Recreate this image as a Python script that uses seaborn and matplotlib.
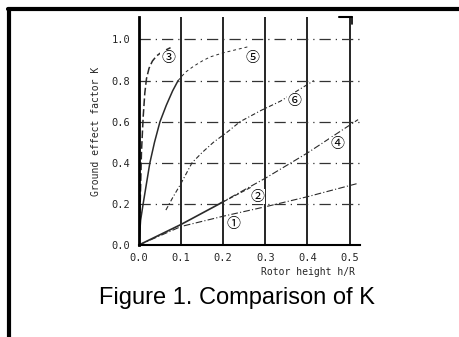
import matplotlib
matplotlib.use("Agg")
import matplotlib.pyplot as plt
import seaborn as sns
import pandas as pd
from matplotlib.lines import Line2D

sns.set_theme(style="white")
plt.rcParams['font.family'] = ['DejaVu Sans']

# Data
c1_x = [0.0, 0.1, 0.2, 0.3, 0.4, 0.52]
c1_y = [0.0, 0.09, 0.14, 0.186, 0.235, 0.30]
c2_x = [0.0, 0.1, 0.2]
c2_y = [0.0, 0.10, 0.21]
c2b_x = [0.2, 0.265]
c2b_y = [0.21, 0.28]
c4_x = [0.19, 0.3, 0.4, 0.52]
c4_y = [0.20, 0.325, 0.448, 0.61]
c3_x = [0.0, 0.003, 0.006, 0.01, 0.014, 0.018, 0.024, 0.032, 0.042, 0.055, 0.075]
c3_y = [0.0, 0.2, 0.45, 0.62, 0.74, 0.81, 0.86, 0.895, 0.92, 0.94, 0.96]
c5_x = [0.0, 0.004, 0.01, 0.018, 0.026, 0.037, 0.05, 0.065, 0.08, 0.093]
c5_y = [0.0, 0.12, 0.2, 0.3, 0.4, 0.5, 0.6, 0.68, 0.75, 0.8]
c5b_x = [0.093, 0.11, 0.13, 0.15, 0.169, 0.2, 0.23, 0.26]
c5b_y = [0.8, 0.84, 0.87, 0.895, 0.915, 0.935, 0.95, 0.965]
c6_x = [0.064, 0.08, 0.1, 0.126, 0.15, 0.177, 0.21, 0.24, 0.29, 0.336, 0.415]
c6_y = [0.17, 0.23, 0.30, 0.40, 0.45, 0.50, 0.55, 0.60, 0.655, 0.70, 0.80]

labels = ["①", "②", "③", "④", "⑤", "⑥"]
label_x = [0.224, 0.282, 0.069, 0.47, 0.27, 0.37]
label_y = [0.10, 0.235, 0.91, 0.49, 0.91, 0.70]

x_ticks = [0.0, 0.1, 0.2, 0.3, 0.4, 0.5]
y_ticks = [0.0, 0.2, 0.4, 0.6, 0.8, 1.0]

fig = plt.figure(figsize=(4.6, 3.37), dpi=100)
ax = fig.add_axes([0.302, 0.273, 0.481, 0.677])

ink = "#2a2a2a"
for v in x_ticks[1:]:
    ax.axvline(v, color="black", lw=1.2, zorder=1)
for v in y_ticks[1:]:
    ax.axhline(v, color="#333333", lw=0.9, ls=(0, (9, 4, 1, 4)), zorder=1)

def draw(xs, ys, **kw):
    df = pd.DataFrame({"x": xs, "y": ys})
    sns.lineplot(data=df, x="x", y="y", ax=ax, sort=False, estimator=None, **kw)

draw(c1_x, c1_y, color=ink, lw=0.8, linestyle=(0, (6, 2, 1, 2)))
draw(c2_x, c2_y, color=ink, lw=1.2)
draw(c2b_x, c2b_y, color=ink, lw=0.8, linestyle=(0, (4, 2)))
draw(c4_x, c4_y, color=ink, lw=0.8, linestyle=(0, (6, 2, 1, 2)))
draw(c3_x, c3_y, color=ink, lw=1.1, linestyle=(0, (5, 2)))
draw(c5_x, c5_y, color=ink, lw=1.1)
draw(c5b_x, c5b_y, color=ink, lw=0.7, linestyle=(0, (3, 3)))
draw(c6_x, c6_y, color=ink, lw=0.8, linestyle=(0, (4, 2, 1, 2)))

for t, lx, ly in zip(labels, label_x, label_y):
    ax.text(lx, ly, t, fontsize=10, ha="center", va="center",
            family=["Noto Sans CJK JP", "DejaVu Sans"], color="black",
            bbox=dict(facecolor="white", edgecolor="none", pad=0.5))

ax.set_xlim(0, 0.525)
ax.set_ylim(0, 1.11)
ax.set_xticks(x_ticks)
ax.set_yticks(y_ticks)
ax.set_xticklabels([f"{v:.1f}" for v in x_ticks], family="DejaVu Sans Mono", fontsize=7.5)
ax.set_yticklabels([f"{v:.1f}" for v in y_ticks], family="DejaVu Sans Mono", fontsize=7.5)
ax.tick_params(axis="both", length=0, pad=6)
for s in ["top", "right"]:
    ax.spines[s].set_visible(False)
ax.spines["left"].set_linewidth(2)
ax.spines["bottom"].set_linewidth(1.5)
ax.spines["left"].set_color("black")
ax.spines["bottom"].set_color("black")
ax.set_xlabel("")
ax.set_ylabel("Ground effect factor K", family="DejaVu Sans Mono", fontsize=7, labelpad=8)

fig.text(0.772, 0.193, "Rotor height h/R", family="DejaVu Sans Mono", fontsize=7,
         ha="right", va="center")
fig.text(0.515, 0.116, "Figure 1. Comparison of K", family="Liberation Sans",
         fontsize=17, ha="center", va="center", color="black")

# scanned frame
fig.add_artist(Line2D([0.02, 0.02], [0.0, 0.972], color="black", lw=3))
fig.add_artist(Line2D([0.018, 1.0], [0.972, 0.972], color="black", lw=3))
# small mark top right
fig.add_artist(Line2D([0.736, 0.765], [0.95, 0.95], color="black", lw=1.5))
fig.add_artist(Line2D([0.765, 0.765], [0.95, 0.93], color="black", lw=1.2))

fig.savefig("out.png", dpi=100)
